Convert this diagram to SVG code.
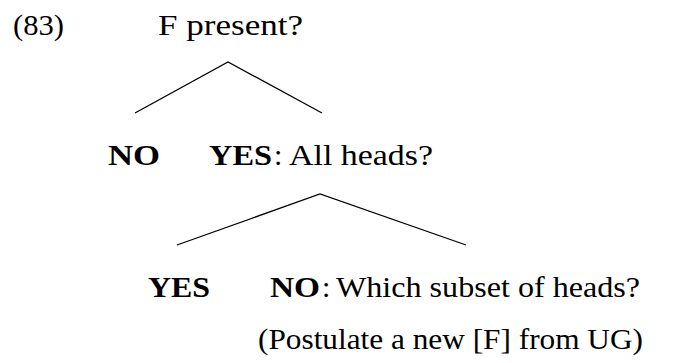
<svg xmlns="http://www.w3.org/2000/svg" width="677" height="363" viewBox="0 0 677 363">
<style>
text{font-family:"Liberation Serif","Times New Roman",serif;font-size:30px;fill:#000}
.b{font-weight:bold}
.edge{stroke:#000;stroke-width:1.3;fill:none}
</style>
<rect width="677" height="363" fill="#fff"/>
<g id="label"><text x="13" y="35" textLength="51" lengthAdjust="spacingAndGlyphs">(83)</text></g>
<g id="root"><text x="158" y="35" textLength="145" lengthAdjust="spacingAndGlyphs">F present?</text></g>
<g id="no1"><text class="b" x="108" y="165" textLength="52" lengthAdjust="spacingAndGlyphs">NO</text></g>
<g id="yes1">
<text class="b" x="209" y="165" textLength="63" lengthAdjust="spacingAndGlyphs">YES</text>
<text x="274" y="165">:</text>
<text x="289" y="165" textLength="144" lengthAdjust="spacingAndGlyphs">All heads?</text>
</g>
<g id="yes2"><text class="b" x="148" y="297" textLength="62" lengthAdjust="spacingAndGlyphs">YES</text></g>
<g id="no2">
<text class="b" x="270" y="297" textLength="50" lengthAdjust="spacingAndGlyphs">NO</text>
<text x="322" y="297">:</text>
<text x="336" y="297" textLength="304" lengthAdjust="spacingAndGlyphs">Which subset of heads?</text>
<text x="258" y="349" textLength="385" lengthAdjust="spacingAndGlyphs">(Postulate a new [F] from UG)</text>
</g>
<g id="connectors">
<polyline class="edge" points="135,113 228,62 322,113"/>
<polyline class="edge" points="177,245 320,194 466,245"/>
</g>
</svg>
